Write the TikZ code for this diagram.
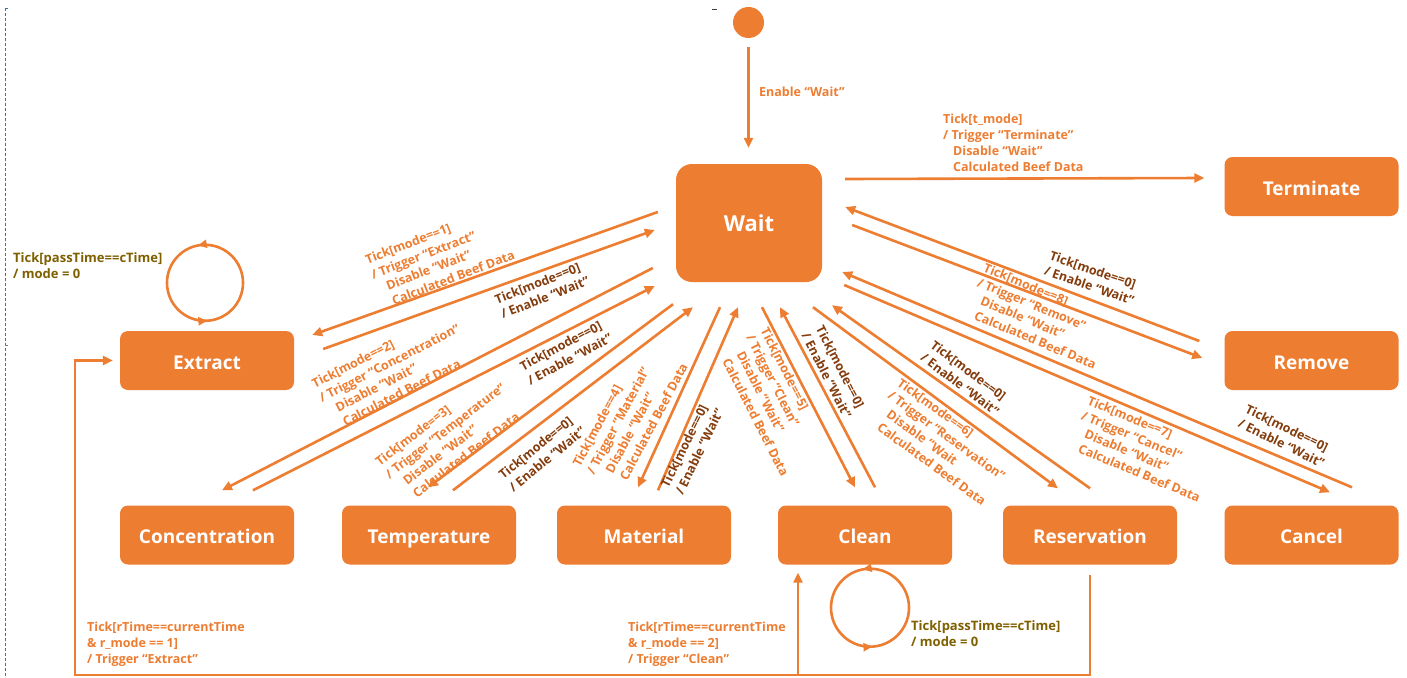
\documentclass[tikz,border=0pt]{standalone}
\usepackage{fontspec}
\setmainfont{Open Sans}
\usetikzlibrary{arrows.meta,decorations.markings}
\definecolor{ora}{HTML}{ED7D31}
\definecolor{dbrown}{HTML}{843C0C}
\definecolor{olivetxt}{HTML}{7F6000}
\definecolor{dblue}{HTML}{2E75B6}
\newcommand{\myind}{\hspace*{10pt}}
\begin{document}
\begin{tikzpicture}[x=1pt,y=-1pt,
 stbox/.style={fill=ora, rounded corners=8pt, minimum width=174pt, minimum height=59pt, inner sep=0pt, text=white, text height=17pt, text depth=0pt, font=\bfseries\fontsize{19}{23}\selectfont},
 trans/.style={draw=ora, line width=2.6pt, -{Triangle[length=10pt,width=9pt]}},
 plain/.style={draw=ora, line width=2.6pt},
 lbl/.style={text=ora, font=\bfseries\fontsize{12.5}{16}\selectfont, align=left, inner sep=0pt},
 dlbl/.style={lbl, text=dbrown},
 olbl/.style={lbl, text=olivetxt, font=\bfseries\fontsize{13}{16}\selectfont},
 selfloop/.style={draw=ora, line width=2.6pt, postaction={decorate}, decoration={markings,
   mark=at position 0.28 with {\arrow{Triangle[length=9pt,width=8pt]}},
   mark=at position 0.76 with {\arrow{Triangle[length=9pt,width=8pt]}}}},
]
\useasboundingbox (0,0) rectangle (1407,677);
\fill[white] (0,0) rectangle (1407,677);

% screen marks
\draw[dblue, line width=1pt, dash pattern=on 3pt off 2pt] (5,8) -- (5,677);
\draw[dblue, line width=0.8pt] (5,8) -- (8,8);
\draw[gray, line width=0.7pt] (5,345) -- (8,345);
\draw[darkgray, line width=0.8pt] (712,9) -- (717,9);

% states
\node[stbox, minimum width=146pt, minimum height=118pt, rounded corners=16pt, text height=17pt, text depth=0pt, font=\bfseries\fontsize{22}{26}\selectfont] (wait) at (749,223) {Wait};
\node[stbox] (terminate) at (1311.5,186.5) {Terminate};
\node[stbox] (extract) at (207,360.5) {Extract};
\node[stbox] (remove) at (1311.5,360.5) {Remove};
\node[stbox] (concentration) at (207,535) {Concentration};
\node[stbox] (temperature) at (429,535) {Temperature};
\node[stbox] (material) at (644,535) {Material};
\node[stbox] (clean) at (865,535) {Clean};
\node[stbox] (reservation) at (1090,535) {Reservation};
\node[stbox] (cancel) at (1311.5,535) {Cancel};
\node[circle, fill=ora, minimum size=31pt, inner sep=0pt] (init) at (748.5,22.5) {};

% initial
\draw[trans, shorten <=9pt, shorten >=16pt] (init.south) -- (init.south |- wait.north);
\node[lbl, anchor=west] (linit) at (759,92) {Enable “Wait”};

% terminate
\draw[trans] ([shift={(23,-44)}]wait.east) -- ([shift={(-20,-8.5)}]terminate.west);
\node[lbl, anchor=west] (lterm) at (943,142.5) {Tick[t\_mode]\\/ Trigger “Terminate”\\\myind Disable “Wait”\\\myind Calculated Beef Data};

% extract
\draw[trans] ([shift={(-18,-11)}]wait.west) -- ([shift={(18,-25.5)}]extract.east);
\draw[trans] ([shift={(29,-11.5)}]extract.east) -- ([shift={(-21,7)}]wait.west);
\node[lbl, rotate=21] (lext) at (440,257) {Tick[mode==1]\\/ Trigger “Extract”\\\myind Disable “Wait”\\\myind Calculated Beef Data};
\node[dlbl, rotate=21.5] (lext0) at (542,290) {Tick[mode==0]\\/ Enable “Wait”};

% concentration
\draw[trans] ([shift={(-23,45)}]wait.west) -- ([shift={(15,-15)}]concentration.north);
\draw[trans] ([shift={(46,-15)}]concentration.north) -- ([shift={(-21,63)}]wait.west);
\node[lbl, rotate=27] (lcon) at (393,370) {Tick[mode==2]\\/ Trigger “Concentration”\\\myind Disable “Wait”\\\myind Calculated Beef Data};
\node[dlbl, rotate=28] (lcon0) at (566,352) {Tick[mode==0]\\/ Enable “Wait”};

% temperature
\draw[trans] ([shift={(-76,22)}]wait.south) -- ([shift={(-1,-18)}]temperature.north);
\draw[trans] ([shift={(24,-15)}]temperature.north) -- ([shift={(-56,25)}]wait.south);
\node[lbl, rotate=37.5] (ltem) at (450,437) {Tick[mode==3]\\/ Trigger “Temperature”\\\myind Disable “Wait”\\\myind Calculated Beef Data};
\node[dlbl, rotate=39] (ltem0) at (542,453) {Tick[mode==0]\\/ Enable “Wait”};

% material
\draw[trans] ([shift={(-29,25)}]wait.south) -- ([shift={(-6,-18)}]material.north);
\draw[trans] ([shift={(14,-15)}]material.north) -- ([shift={(-11,25)}]wait.south);
\node[lbl, rotate=62] (lmat) at (630,415) {Tick[mode==4]\\/ Trigger “Material”\\\myind Disable “Wait”\\\myind Calculated Beef Data};
\node[dlbl, rotate=64] (lmat0) at (692,448) {Tick[mode==0]\\/ Enable “Wait”};

% clean
\draw[trans] ([shift={(13,25)}]wait.south) -- ([shift={(-10,-18)}]clean.north);
\draw[trans] ([shift={(10,-18)}]clean.north) -- ([shift={(31,25)}]wait.south);
\node[lbl, rotate=-63] (lcle) at (775,402) {Tick[mode==5]\\/ Trigger “Clean”\\\myind Disable “Wait”\\\myind Calculated Beef Data};
\node[dlbl, rotate=-63] (lcle0) at (834,372) {Tick[mode==0]\\/ Enable “Wait”};

% reservation
\draw[trans] ([shift={(64,25)}]wait.south) -- ([shift={(-32,-17)}]reservation.north);
\draw[trans] ([shift={(0,-17)}]reservation.north) -- ([shift={(83,23)}]wait.south);
\node[lbl, rotate=-36] (lres) at (942,442) {Tick[mode==6]\\/ Trigger “Reservation”\\\myind Disable “Wait\\\myind Calculated Beef Data};
\node[dlbl, rotate=-37] (lres0) at (965,378) {Tick[mode==0]\\/ Enable “Wait”};

% cancel
\draw[trans] ([shift={(22,62)}]wait.east) -- ([shift={(18.5,-13)}]cancel.north);
\draw[trans] ([shift={(40.5,-18)}]cancel.north) -- ([shift={(20,49)}]wait.east);
\node[lbl, rotate=-22.5] (lcan) at (1144,449) {Tick[mode==7]\\/ Trigger “Cancel”\\\myind Disable “Wait”\\\myind Calculated Beef Data};
\node[dlbl, rotate=-26] (lcan0) at (1285,436) {Tick[mode==0]\\/ Enable “Wait”};

% remove
\draw[trans] ([shift={(30,2)}]wait.east) -- ([shift={(-22,-2.5)}]remove.west);
\draw[trans] ([shift={(-25,-19.5)}]remove.west) -- ([shift={(23,-16)}]wait.east);
\node[lbl, rotate=-22.5] (lrem) at (1040,316) {Tick[mode==8]\\/ Trigger “Remove”\\\myind Disable “Wait”\\\myind Calculated Beef Data};
\node[dlbl, rotate=-19] (lrem0) at (1092,278) {Tick[mode==0]\\/ Enable “Wait”};

% self loops
\coordinate (lc1) at ([shift={(-2,-48)}]extract.north);
\draw[selfloop] ([shift={(38,0)}]lc1) arc[start angle=0, end angle=-360, radius=38];
\node[olbl, anchor=west] (lloop1) at (13,266) {Tick[passTime==cTime]\\/ mode = 0};
\coordinate (lc2) at ([shift={(5,43)}]clean.south);
\draw[selfloop] ([shift={(39,0)}]lc2) arc[start angle=0, end angle=-360, radius=39];
\node[olbl, anchor=west] (lloop2) at (911,634) {Tick[passTime==cTime]\\/ mode = 0};

% reservation timers
\coordinate (bl) at (75,675);
\coordinate (cb) at (798,675);
\draw[trans] ([yshift=-10pt]reservation.south) |- (bl) |- ([xshift=-7pt]extract.west);
\draw[trans] (cb) -- ([yshift=-8pt]cb |- clean.south);
\node[lbl, anchor=west] (lrt1) at (87,644) {Tick[rTime==currentTime\\\& r\_mode == 1]\\/ Trigger “Extract”};
\node[lbl, anchor=west] (lrt2) at (628,644) {Tick[rTime==currentTime\\\& r\_mode == 2]\\/ Trigger “Clean”};
\end{tikzpicture}
\end{document}
